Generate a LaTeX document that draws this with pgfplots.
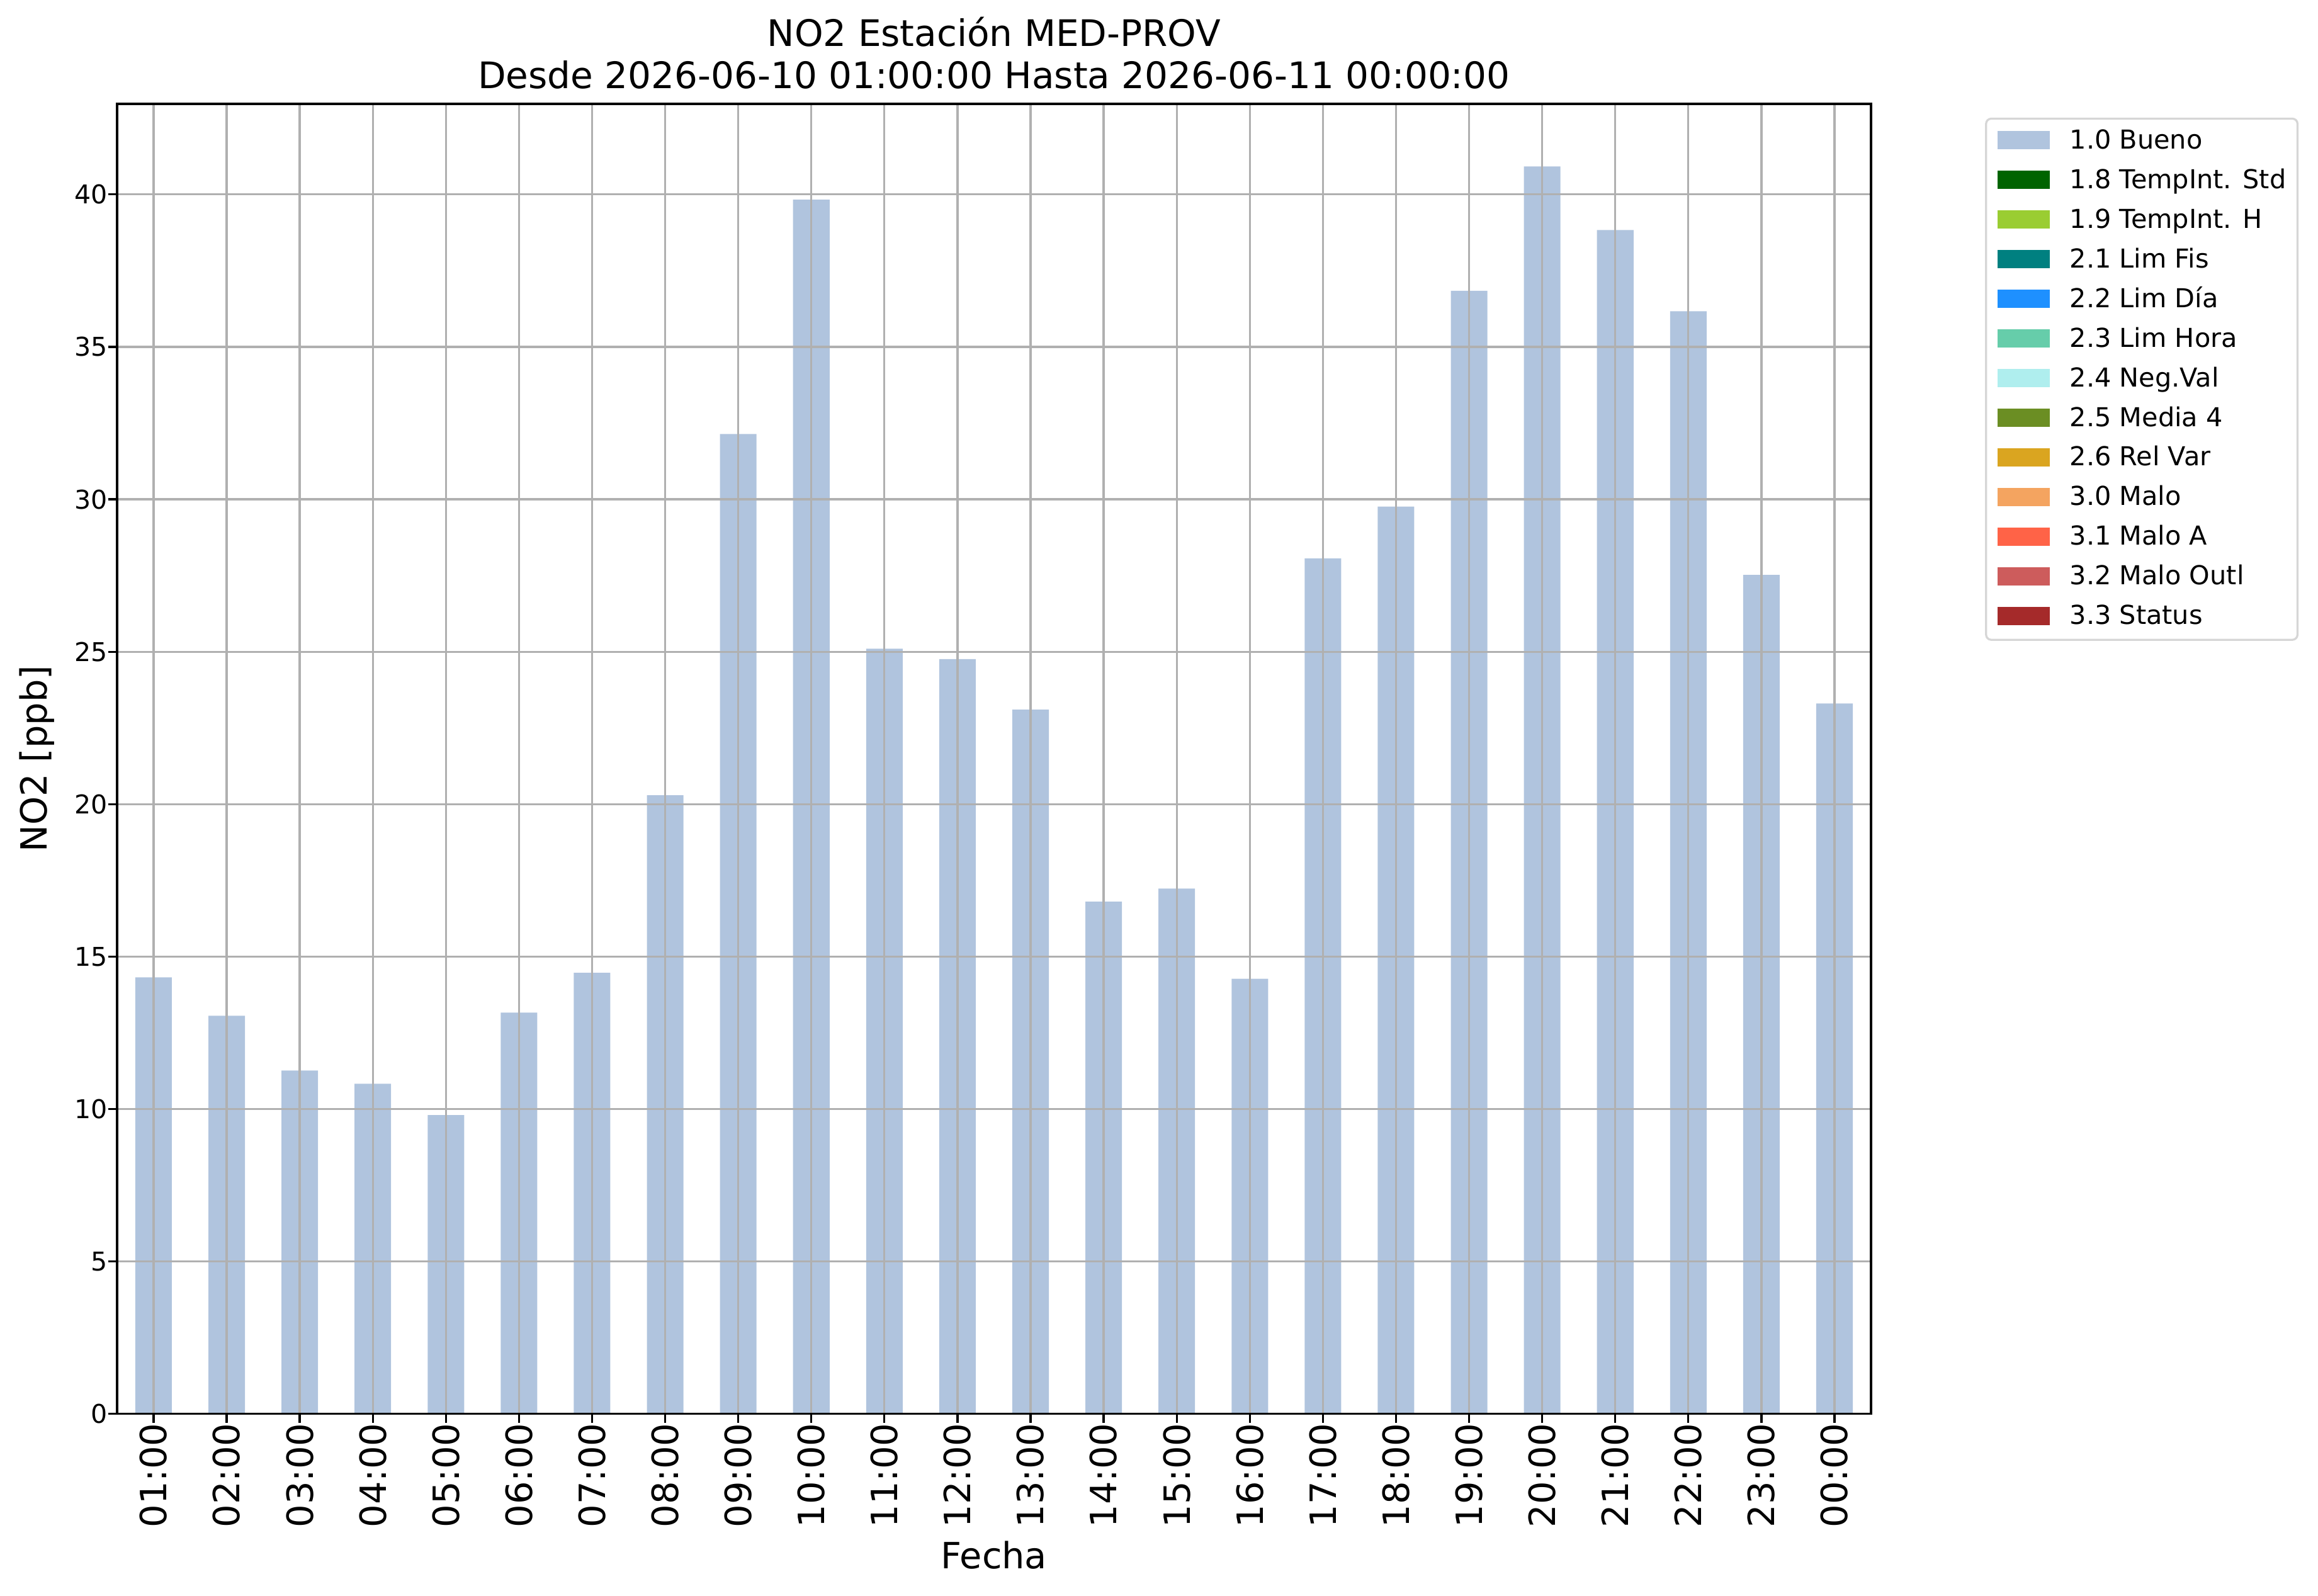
\documentclass[border=0pt]{standalone}
\usepackage{fontspec}
\setmainfont{DejaVu Sans}
\usepackage{pgfplots}
\pgfplotsset{compat=1.18}
\definecolor{bueno}{HTML}{B0C4DE}
\definecolor{c18}{HTML}{006400}
\definecolor{c19}{HTML}{9ACD32}
\definecolor{c21}{HTML}{008080}
\definecolor{c22}{HTML}{1E90FF}
\definecolor{c23}{HTML}{66CDAA}
\definecolor{c24}{HTML}{AFEEEE}
\definecolor{c25}{HTML}{6B8E23}
\definecolor{c26}{HTML}{DAA520}
\definecolor{c30}{HTML}{F4A460}
\definecolor{c31}{HTML}{FF6347}
\definecolor{c32}{HTML}{CD5C5C}
\definecolor{c33}{HTML}{A52A2A}
\definecolor{gridgray}{HTML}{B0B0B0}
\definecolor{legendgray}{HTML}{D6D6D6}
\pgfplotsset{mypatch/.style={legend image code/.code={\fill[##1, draw=none, sharp corners] (0pt,-3.9pt) rectangle (25.5pt,5pt);}}}
\pgfplotstableread{
x y
0 14.32
1 13.06
2 11.26
3 10.83
4 9.80
5 13.16
6 14.47
7 20.29
8 32.14
9 39.83
10 25.10
11 24.76
12 23.10
13 16.80
14 17.23
15 14.27
16 28.06
17 29.76
18 36.84
19 40.92
20 38.83
21 36.17
22 27.52
23 23.30
}\datatable
\begin{document}
\begin{tikzpicture}
\path[use as bounding box] (0,0) rectangle (1129pt,777pt);
\begin{axis}[
  at={(57pt,88.4pt)}, anchor=south west,
  scale only axis, width=854.3pt, height=638pt,
  xmin=-0.5, xmax=23.5, ymin=0, ymax=42.97,
  ybar, bar width=0.5, bar shift=0pt,
  xtick={0,...,23},
  xticklabels={01:00,02:00,03:00,04:00,05:00,06:00,07:00,08:00,09:00,10:00,11:00,12:00,13:00,14:00,15:00,16:00,17:00,18:00,19:00,20:00,21:00,22:00,23:00,00:00},
  ytick={0,5,...,40},
  grid=major,
  grid style={color=gridgray, line width=1pt},
  axis on top,
  axis line style={line width=1pt},
  tick style={black, line width=1pt},
  major tick length=4.4pt,
  tick align=outside,
  xtick pos=bottom, ytick pos=left,
  /pgf/number format/assume math mode=true,
  xticklabel style={rotate=90, anchor=east, inner sep=0pt, font=\fontsize{17.6}{17.6}\selectfont},
  yticklabel style={anchor=east, inner sep=0pt, font=\fontsize{12.6}{12.6}\selectfont},
  xlabel={Fecha},
  ylabel={NO2 [ppb]},
  xlabel style={at={(axis description cs:0.5,-0.11834)}, anchor=base, inner sep=0pt, font=\fontsize{17.6}{17.6}\selectfont},
  ylabel style={at={(axis description cs:-0.04015,0.5)}, anchor=base, inner sep=0pt, font=\fontsize{17.6}{17.6}\selectfont},
  title={NO2 Estación MED-PROV\\Desde 2026-06-10 01:00:00 Hasta 2026-06-11 00:00:00},
  title style={at={(axis description cs:0.5,1.0017)}, anchor=south, inner sep=0pt, align=center, font=\fontsize{17.8}{20.4}\selectfont},
  legend style={at={(1.065,0.9895)}, anchor=north west, draw=legendgray, line width=1pt, rounded corners=2.5pt,
    font=\fontsize{12.7}{12.7}\selectfont, cells={anchor=west},
    nodes={inner sep=0pt, text height=9.6pt, text depth=2.4pt},
    inner xsep=5.5pt, inner ysep=5.1pt, row sep=7.3pt, column sep=9.8pt},
]
\addplot[fill=bueno, draw=none, mypatch] table[x=x, y=y] {\datatable};
\addlegendentry{1.0 Bueno}
\addlegendimage{fill=c18, mypatch}\addlegendentry{1.8 TempInt. Std}
\addlegendimage{fill=c19, mypatch}\addlegendentry{1.9 TempInt. H}
\addlegendimage{fill=c21, mypatch}\addlegendentry{2.1 Lim Fis}
\addlegendimage{fill=c22, mypatch}\addlegendentry{2.2 Lim Día}
\addlegendimage{fill=c23, mypatch}\addlegendentry{2.3 Lim Hora}
\addlegendimage{fill=c24, mypatch}\addlegendentry{2.4 Neg.Val}
\addlegendimage{fill=c25, mypatch}\addlegendentry{2.5 Media 4}
\addlegendimage{fill=c26, mypatch}\addlegendentry{2.6 Rel Var}
\addlegendimage{fill=c30, mypatch}\addlegendentry{3.0 Malo}
\addlegendimage{fill=c31, mypatch}\addlegendentry{3.1 Malo A}
\addlegendimage{fill=c32, mypatch}\addlegendentry{3.2 Malo Outl}
\addlegendimage{fill=c33, mypatch}\addlegendentry{3.3 Status}
\end{axis}
\end{tikzpicture}
\end{document}
